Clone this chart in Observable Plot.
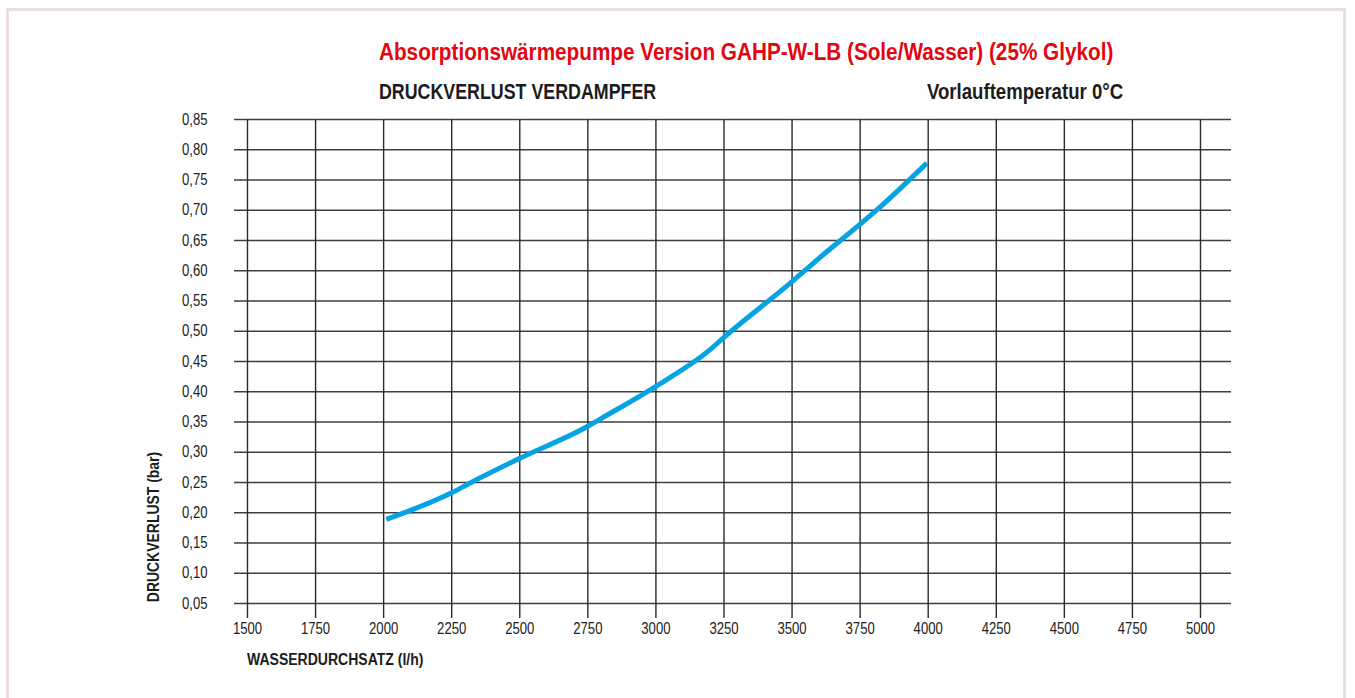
<!DOCTYPE html>
<html>
<head>
<meta charset="utf-8">
<script src="https://cdn.jsdelivr.net/npm/d3@7"></script>
<script src="https://cdn.jsdelivr.net/npm/@observablehq/plot@0.6"></script>
<style>
  html, body { margin: 0; padding: 0; background: #fff; overflow: hidden; }
  #wrap { position: relative; width: 1355px; height: 698px; overflow: hidden;
          font-family: "Liberation Sans", Arial, sans-serif; }
  #frame { position: absolute; left: 6px; top: 8px; width: 1340px; height: 720px;
           border: 3px solid #e7dedd; box-sizing: border-box; }
  #chart { position: absolute; left: 0; top: 0; }
  .t { position: absolute; white-space: nowrap; line-height: 1; font-weight: bold; color: #1c1c1c;
       transform-origin: left center; }
  #title { left: 379px; top: 41px; font-size: 23px; color: #e3060f; }
  #sub1 { left: 379px; top: 81px; font-size: 22px; }
  #sub2 { left: 927px; top: 81px; font-size: 22px; }
  #xlab { left: 247px; top: 652px; font-size: 16px; }
  #ylab { left: 154px; top: 527px; font-size: 16px; transform-origin: center center; }
</style>
</head>
<body>
<div id="wrap">
  <div id="frame"></div>
  <div id="chart"></div>
  <div class="t" id="title">Absorptionswärmepumpe Version GAHP-W-LB (Sole/Wasser) (25% Glykol)</div>
  <div class="t" id="sub1">DRUCKVERLUST VERDAMPFER</div>
  <div class="t" id="sub2">Vorlauftemperatur 0°C</div>
  <div class="t" id="xlab">WASSERDURCHSATZ (l/h)</div>
  <div class="t" id="ylab">DRUCKVERLUST (bar)</div>
</div>
<script>
// Data
const xTicks = [1500, 1750, 2000, 2250, 2500, 2750, 3000, 3250, 3500, 3750, 4000, 4250, 4500, 4750, 5000];
const yTicks = [0.05, 0.10, 0.15, 0.20, 0.25, 0.30, 0.35, 0.40, 0.45, 0.50, 0.55, 0.60, 0.65, 0.70, 0.75, 0.80, 0.85];
const flow = [2010, 2250, 2330, 2500, 2750, 2800, 3000, 3200, 3250, 3500, 3600, 3750, 3825, 3995];
const loss = [0.189, 0.233, 0.252, 0.290, 0.343, 0.356, 0.409, 0.470, 0.490, 0.582, 0.621, 0.677, 0.706, 0.778];

const curve = flow.map((f, i) => ({flow: f, loss: loss[i]}));
const gridColor = "#2a2a2a";

const chart = Plot.plot({
  width: 1355,
  height: 698,
  marginLeft: 234,
  marginRight: 124,
  marginTop: 119,
  marginBottom: 95,
  style: {
    fontFamily: "'Liberation Sans', Arial, sans-serif",
    fontSize: "16px",
    color: "#222",
    background: "transparent"
  },
  x: {domain: [1452.3, 5113.9], ticks: xTicks},
  y: {domain: [0.05, 0.85], ticks: yTicks},
  marks: [
    Plot.ruleY(yTicks, {stroke: gridColor, strokeWidth: 1.4, strokeOpacity: 0.9}),
    Plot.ruleX(xTicks, {y1: 0.05, y2: 0.85, stroke: gridColor, strokeWidth: 1.4}),
    Plot.axisX({ticks: xTicks, tickSize: 15, tickPadding: 4, tickFormat: d => String(d),
                label: null, stroke: gridColor, strokeWidth: 1.4, strokeOpacity: 1}),
    Plot.axisY({ticks: yTicks, tickSize: 0, tickPadding: 27,
                tickFormat: d => d.toFixed(2).replace(".", ","), label: null}),
    Plot.line(curve, {x: "flow", y: "loss", stroke: "#06a3e4", strokeWidth: 5,
                      strokeLinecap: "butt", curve: "monotone-x"})
  ]
});
// narrow the tick labels (condensed look) around their anchor points
chart.querySelectorAll("text").forEach(t => {
  const tr = t.getAttribute("transform") || "";
  t.setAttribute("transform", tr + " scale(0.82,1)");
});
document.getElementById("chart").appendChild(chart);

// condense the HTML texts to the widths of the reference
function fit(id, target, extra) {
  const el = document.getElementById(id);
  const w = el.offsetWidth;
  const s = target / w;
  el.style.transform = (extra || "") + " scaleX(" + s.toFixed(4) + ")";
}
fit("title", 734);
fit("sub1", 277);
fit("sub2", 196);
fit("xlab", 176);
fit("ylab", 150, "translate(-50%, -50%) rotate(-90deg)");
</script>
</body>
</html>
